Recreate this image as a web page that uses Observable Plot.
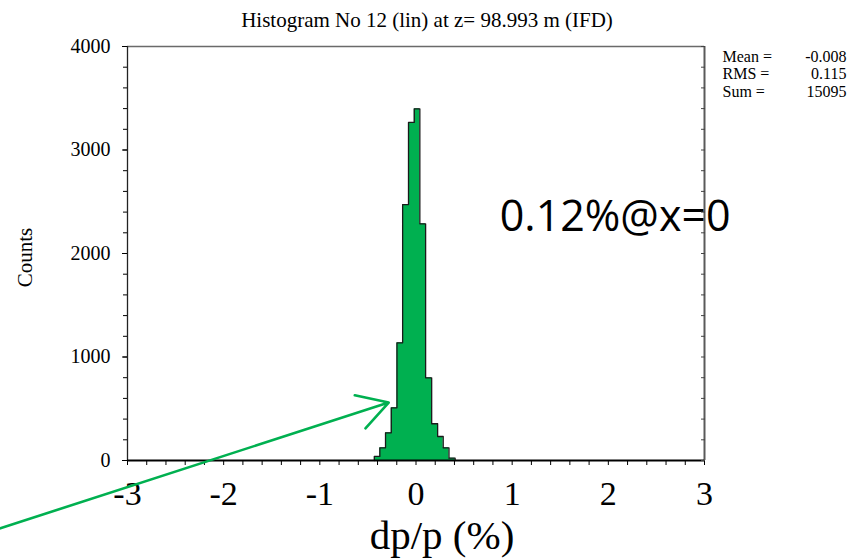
<!DOCTYPE html>
<html>
<head>
<meta charset="utf-8">
<script src="https://cdn.jsdelivr.net/npm/d3@7"></script>
<script src="https://cdn.jsdelivr.net/npm/@observablehq/plot@0.6"></script>
<style>
  html, body { margin: 0; padding: 0; background: #fff; }
</style>
</head>
<body>
<div id="chart"></div>
<script>
// ---- data ----
const binEdges  = [-0.433, -0.376, -0.317, -0.257, -0.198, -0.139, -0.078, -0.018, 0.040, 0.100, 0.163, 0.225, 0.283, 0.343, 0.407];
const binCounts = [39, 122, 267, 509, 1137, 2473, 3266, 3398, 2287, 799, 355, 232, 122, 22];
const xTickValues = [-3, -2, -1, 0, 1, 2, 3];
const yTickValues = [0, 1000, 2000, 3000, 4000];
const statLabels = ["Mean =", "RMS =", "Sum ="];
const statValues = ["-0.008", "0.115", "15095"];
const titleText = "Histogram No 12 (lin) at z= 98.993 m (IFD)";
const xLabelText = "dp/p (%)";
const yLabelText = "Counts";
const noteText = "0.12%@x=0";
const noteAnchor = {x: 0.871, y: 2222};
const arrowSpec = {x1: -4.33, y1: -657, x2: -0.284, y2: 560};

// ---- derived tables ----
const outline = [{x: binEdges[0], y: 0}]
  .concat(binCounts.map((c, i) => ({x: binEdges[i], y: c})))
  .concat([{x: binEdges[binEdges.length - 1], y: 0}]);
const xMinor = d3.range(-3, 3.0001, 0.2).map(v => +v.toFixed(1));
const yMinor = d3.range(0, 4001, 200);

const green = "#00b050";
const serif = "Liberation Serif, Times New Roman, serif";

const chart = Plot.plot({
  width: 858,
  height: 560,
  marginLeft: 127,
  marginRight: 154,
  marginTop: 46,
  marginBottom: 100,
  style: {fontFamily: serif, fontSize: "20px", color: "#000", background: "#fff", overflow: "visible"},
  x: {domain: [-3, 3], label: null},
  y: {domain: [0, 4000], label: null},
  marks: [
    // annotation text (under the frame line, as in the reference)
    Plot.text([noteText], {x: () => noteAnchor.x, y: () => noteAnchor.y, textAnchor: "start", lineAnchor: "bottom",
      fontSize: 43, fontFamily: "Open Sans, sans-serif", fill: "#000"}),

    // histogram (one filled step shape + outline)
    Plot.areaY(outline, {x: "x", y: "y", curve: "step-after", fill: green}),
    Plot.line(outline, {x: "x", y: "y", curve: "step-after", stroke: "#1a1a1a", strokeWidth: 1.3}),

    // frame
    Plot.ruleY([4000], {stroke: "#6a6a6a", strokeWidth: 1.6}),
    Plot.ruleX([3], {stroke: "#5a5a5a", strokeWidth: 2}),
    Plot.ruleX([-3], {stroke: "#222", strokeWidth: 1.3}),
    Plot.ruleY([0], {stroke: "#000", strokeWidth: 2}),

    // x axis
    Plot.axisX(xMinor, {anchor: "bottom", tickSize: 5, tickFormat: () => "", label: null}),
    Plot.axisX(xTickValues, {anchor: "bottom", tickSize: 0, tickPadding: 20, fontSize: 34, fontFamily: serif,
      tickFormat: d => `${d}`, label: null}),

    // y axes
    Plot.axisY(yMinor, {anchor: "left", tickSize: 4, tickFormat: () => "", label: null}),
    Plot.axisY(yTickValues, {anchor: "left", tickSize: 5, tickPadding: 12, fontSize: 20, fontFamily: serif,
      tickFormat: d => `${d}`, label: null}),
    Plot.axisY(yMinor, {anchor: "right", tickSize: -4, tickFormat: () => "", label: null, stroke: "#444"}),

    // title and axis labels
    Plot.text([titleText], {frameAnchor: "top", dx: 11, dy: -20, lineAnchor: "bottom", fontSize: 21, fontFamily: serif}),
    Plot.text([yLabelText], {frameAnchor: "left", dx: -102, dy: 4, rotate: -90, textAnchor: "middle", lineAnchor: "middle", fontSize: 21, fontFamily: serif}),
    Plot.text([xLabelText], {frameAnchor: "bottom", dx: 26, dy: 88, lineAnchor: "bottom", fontSize: 41, fontFamily: serif}),

    // statistics box
    Plot.text([statLabels.join("\n")], {frameAnchor: "top-right", dx: 18, dy: 50.7, textAnchor: "start", lineAnchor: "bottom", lineHeight: 1.11, fontSize: 16, fontFamily: serif}),
    Plot.text([statValues.join("\n")], {frameAnchor: "top-right", dx: 142, dy: 50.7, textAnchor: "end", lineAnchor: "bottom", lineHeight: 1.11, fontSize: 16, fontFamily: serif}),

    // arrow
    Plot.arrow([arrowSpec], {x1: "x1", y1: "y1", x2: "x2", y2: "y2", bend: 0, headLength: 20, headAngle: 60,
      stroke: green, strokeWidth: 2.6, inset: 0})
  ]
});
document.getElementById("chart").appendChild(chart);
</script>
</body>
</html>
